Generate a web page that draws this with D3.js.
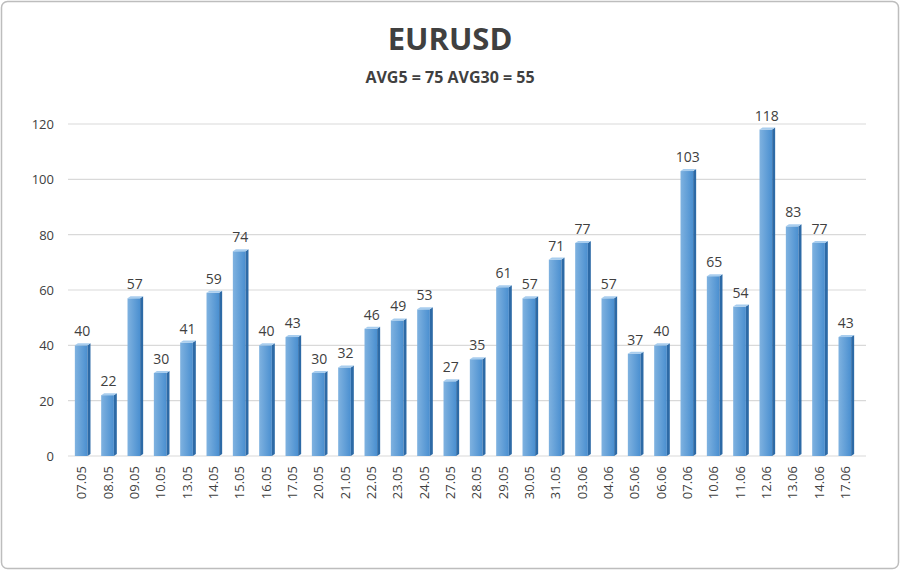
<!DOCTYPE html>
<html><head><meta charset="utf-8">
<script src="https://cdn.jsdelivr.net/npm/d3@7"></script>
<style>body{margin:0;background:#fff}svg{display:block}</style>
</head><body><svg width="900" height="570"></svg>
<script>
const dates = ["07.05","08.05","09.05","10.05","13.05","14.05","15.05","16.05","17.05","20.05","21.05","22.05","23.05","24.05","27.05","28.05","29.05","30.05","31.05","03.06","04.06","05.06","06.06","07.06","10.06","11.06","12.06","13.06","14.06","17.06"];
const values = [40,22,57,30,41,59,74,40,43,30,32,46,49,53,27,35,61,57,71,77,57,37,40,103,65,54,118,83,77,43];
const yTicks = [0,20,40,60,80,100,120];
const title = "EURUSD", subtitle = "AVG5 = 75 AVG30 = 55";

const svg = d3.select("svg");
const font = "'Open Sans', 'DejaVu Sans', sans-serif";
svg.append("rect").attr("x",1.5).attr("y",1.5).attr("width",897).attr("height",567)
  .attr("rx",6).attr("fill","#fff").attr("stroke","#bdbdbd").attr("stroke-width",1.5);

const defs = svg.append("defs");
const g1 = defs.append("linearGradient").attr("id","front");
g1.append("stop").attr("offset","0").attr("stop-color","#7fb2e0");
g1.append("stop").attr("offset","1").attr("stop-color","#4a8fd0");

const x = d3.scaleBand().domain(dates).range([68, 858]).paddingInner(0.52).paddingOuter(0.26);
const y = d3.scaleLinear().domain([0,120]).range([456,124]);

svg.append("g").selectAll("line").data(yTicks).join("line")
  .attr("x1",68).attr("x2",866).attr("y1",d=>y(d)).attr("y2",d=>y(d))
  .attr("stroke","#d9d9d9").attr("stroke-width",1.2);
svg.append("g").selectAll("text").data(yTicks).join("text")
  .attr("x",54).attr("y",d=>y(d)+5).attr("text-anchor","end")
  .attr("font-family",font).attr("font-size",13).attr("fill","#404040").text(d=>d);

const d3x = 3, d3y = 2;
const bars = svg.append("g").selectAll("g").data(values).join("g");
bars.append("rect").attr("x",(d,i)=>x(dates[i])).attr("y",d=>y(d))
  .attr("width",x.bandwidth()).attr("height",d=>y(0)-y(d)).attr("fill","url(#front)");
bars.append("path").attr("d",(d,i)=>{
  const x0 = x(dates[i])+x.bandwidth(), t=y(d), b=y(0);
  return `M${x0},${t}L${x0+d3x},${t-d3y}L${x0+d3x},${b-d3y}L${x0},${b}Z`;
}).attr("fill","#2d6aa6");
bars.append("path").attr("d",(d,i)=>{
  const x0 = x(dates[i]), x1=x0+x.bandwidth(), t=y(d);
  return `M${x0},${t}L${x0+d3x},${t-d3y}L${x1+d3x},${t-d3y}L${x1},${t}Z`;
}).attr("fill","#a8cdee");
bars.append("text").attr("x",(d,i)=>x(dates[i])+x.bandwidth()/2+1).attr("y",d=>y(d)-9)
  .attr("text-anchor","middle").attr("font-family",font).attr("font-size",14).attr("fill","#404040").text(d=>d);

svg.append("g").selectAll("text").data(dates).join("text")
  .attr("transform",d=>`translate(${x(d)+x.bandwidth()/2+5},466) rotate(-90)`)
  .attr("text-anchor","end").attr("font-family",font).attr("font-size",13).attr("fill","#404040").text(d=>d);

svg.append("text").attr("x",450).attr("y",50).attr("text-anchor","middle")
  .attr("font-family",font).attr("font-weight","bold").attr("font-size",31).attr("fill","#404040").text(title);
svg.append("text").attr("x",450).attr("y",83).attr("text-anchor","middle")
  .attr("font-family",font).attr("font-weight","bold").attr("font-size",16).attr("fill","#404040").text(subtitle);
</script></body></html>
